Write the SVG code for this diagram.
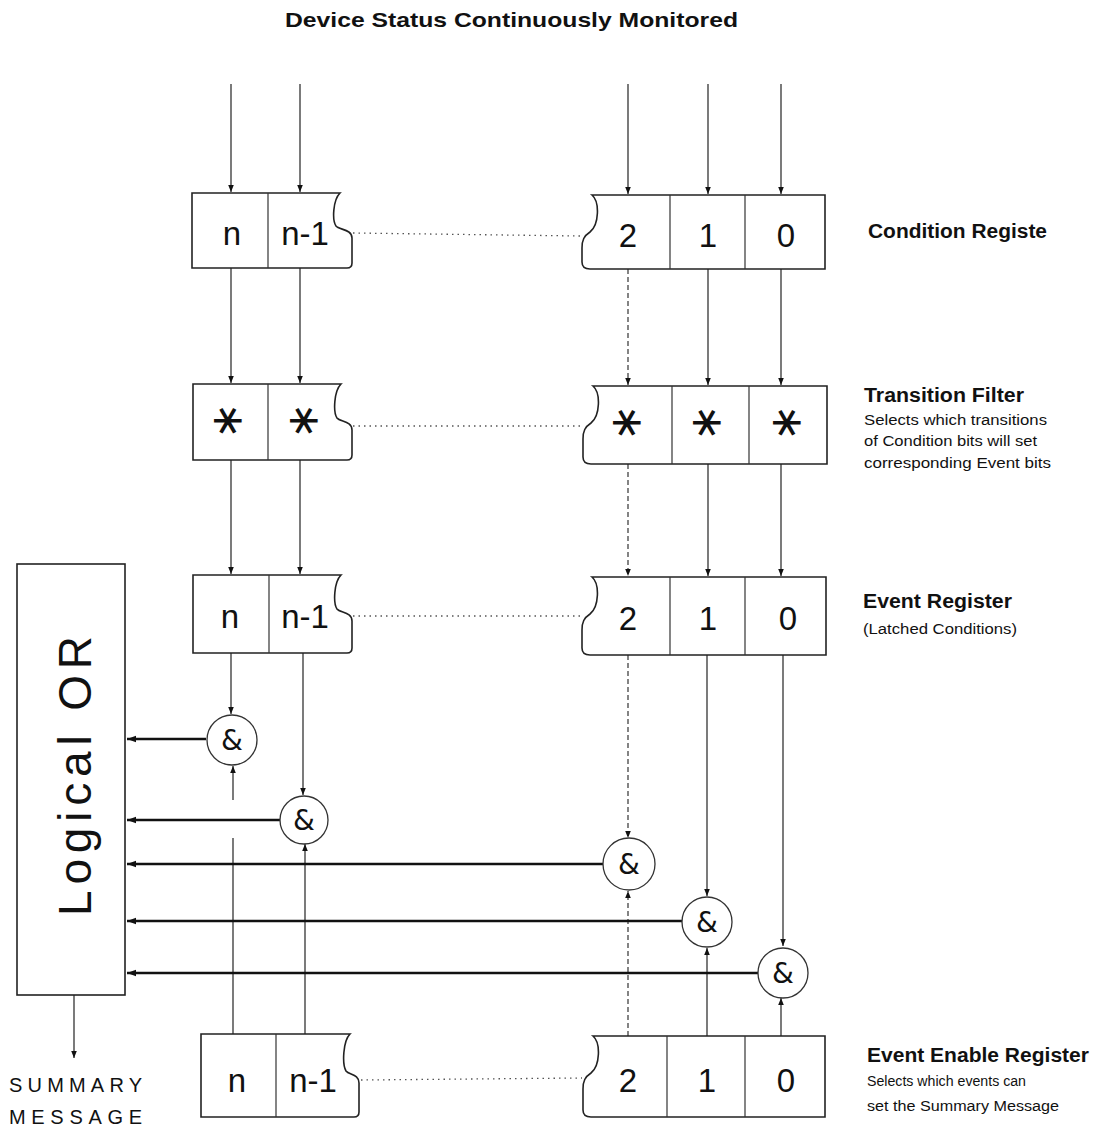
<svg xmlns="http://www.w3.org/2000/svg" width="1105" height="1129" viewBox="0 0 1105 1129">
<defs>
<marker id="ah" viewBox="0 0 10 10" refX="10" refY="5" markerWidth="7" markerHeight="7" orient="auto" markerUnits="userSpaceOnUse">
<path d="M0,1 L10,5 L0,9 Z" fill="#111"/>
</marker>
<marker id="ahb" viewBox="0 0 10 10" refX="10" refY="5" markerWidth="10" markerHeight="9" orient="auto" markerUnits="userSpaceOnUse">
<path d="M0,1.5 L10,5 L0,8.5 Z" fill="#111"/>
</marker>
</defs>
<style>
.box{fill:#fff;stroke:#222;stroke-width:1.6}
.div{stroke:#333;stroke-width:1.2}
.dot{stroke:#555;stroke-width:1.3;stroke-dasharray:1.5 4;fill:none}
.ln{stroke:#222;stroke-width:1.2;fill:none}
.dl{stroke:#333;stroke-width:1.2;fill:none;stroke-dasharray:5 3}
.hl{stroke:#111;stroke-width:2.4;fill:none}
.gate{fill:#fff;stroke:#333;stroke-width:1.3}
.num{font-family:"Liberation Sans",Arial,sans-serif;font-size:33px;fill:#111;text-anchor:middle}
.amp{font-family:"DejaVu Sans",sans-serif;font-size:28px;fill:#111;text-anchor:middle}
.star{font-family:"DejaVu Sans",sans-serif;font-size:44px;fill:#111;text-anchor:middle}
.lab{font-family:"Liberation Sans",Arial,sans-serif;font-size:20px;font-weight:bold;fill:#111}
.sub{font-family:"Liberation Sans",Arial,sans-serif;font-size:14px;fill:#111}
.title{font-family:"Liberation Sans",Arial,sans-serif;font-size:21px;font-weight:bold;fill:#111}
.big{font-family:"Liberation Sans",Arial,sans-serif;font-size:46px;fill:#111;text-anchor:middle}
.sum{font-family:"Liberation Sans",Arial,sans-serif;font-size:20px;fill:#111}
</style>
<rect width="1105" height="1129" fill="#fff"/>

<text class="title" x="285" y="27" textLength="453" lengthAdjust="spacingAndGlyphs">Device Status Continuously Monitored</text>

<g id="connectors">
<line class="ln" x1="231" y1="84" x2="231" y2="192" marker-end="url(#ah)"/>
<line class="ln" x1="300" y1="84" x2="300" y2="192" marker-end="url(#ah)"/>
<line class="ln" x1="628" y1="84" x2="628" y2="194" marker-end="url(#ah)"/>
<line class="ln" x1="708" y1="84" x2="708" y2="194" marker-end="url(#ah)"/>
<line class="ln" x1="781" y1="84" x2="781" y2="194" marker-end="url(#ah)"/>
<line class="ln" x1="231" y1="268" x2="231" y2="383" marker-end="url(#ah)"/>
<line class="ln" x1="300" y1="268" x2="300" y2="383" marker-end="url(#ah)"/>
<line class="dl" x1="628" y1="269" x2="628" y2="385" marker-end="url(#ah)"/>
<line class="ln" x1="708" y1="269" x2="708" y2="385" marker-end="url(#ah)"/>
<line class="ln" x1="781" y1="269" x2="781" y2="385" marker-end="url(#ah)"/>
<line class="ln" x1="231" y1="460" x2="231" y2="574" marker-end="url(#ah)"/>
<line class="ln" x1="300" y1="460" x2="300" y2="574" marker-end="url(#ah)"/>
<line class="dl" x1="628" y1="464" x2="628" y2="576" marker-end="url(#ah)"/>
<line class="ln" x1="708" y1="464" x2="708" y2="576" marker-end="url(#ah)"/>
<line class="ln" x1="781" y1="464" x2="781" y2="576" marker-end="url(#ah)"/>
<line class="ln" x1="231" y1="653" x2="231" y2="714" marker-end="url(#ah)"/>
<line class="ln" x1="303" y1="653" x2="303" y2="795" marker-end="url(#ah)"/>
<line class="dl" x1="628" y1="655" x2="628" y2="838" marker-end="url(#ah)"/>
<line class="ln" x1="707" y1="655" x2="707" y2="896" marker-end="url(#ah)"/>
<line class="ln" x1="783" y1="655" x2="783" y2="946" marker-end="url(#ah)"/>
<line class="ln" x1="233" y1="1034" x2="233" y2="838"/>
<line class="ln" x1="233" y1="800" x2="233" y2="766" marker-end="url(#ah)"/>
<line class="ln" x1="305" y1="1034" x2="305" y2="844" marker-end="url(#ah)"/>
<line class="dl" x1="628" y1="1036" x2="628" y2="891" marker-end="url(#ah)"/>
<line class="ln" x1="707" y1="1036" x2="707" y2="948" marker-end="url(#ah)"/>
<line class="ln" x1="781" y1="1036" x2="781" y2="998" marker-end="url(#ah)"/>
<line class="hl" x1="206" y1="739" x2="127" y2="739" marker-end="url(#ahb)"/>
<line class="hl" x1="280" y1="820" x2="127" y2="820" marker-end="url(#ahb)"/>
<line class="hl" x1="603" y1="864" x2="127" y2="864" marker-end="url(#ahb)"/>
<line class="hl" x1="682" y1="921" x2="127" y2="921" marker-end="url(#ahb)"/>
<line class="hl" x1="758" y1="973" x2="127" y2="973" marker-end="url(#ahb)"/>
<line class="ln" x1="74" y1="995" x2="74" y2="1058" marker-end="url(#ah)"/>
<line class="dot" x1="353" y1="233" x2="580" y2="236"/>
<line class="dot" x1="353" y1="426" x2="582" y2="426"/>
<line class="dot" x1="353" y1="616" x2="582" y2="616"/>
<line class="dot" x1="361" y1="1080" x2="582" y2="1078"/>
</g>

<g id="condition-register">
<path class="box" d="M192,193 H340 C333,200 332,220 336,226 C339,230 352,229 352,238 V263 Q352,268 347,268 H192 Z"/>
<line class="div" x1="268" y1="193" x2="268" y2="268"/>
<text class="num" x="232" y="245">n</text>
<text class="num" x="305" y="245">n-1</text>
<path class="box" d="M825,195 H592 C600,202 599,225 590,232 C584,236 582,240 582,248 V262 Q582,269 590,269 H825 Z"/>
<line class="div" x1="670" y1="195" x2="670" y2="269"/>
<line class="div" x1="745" y1="195" x2="745" y2="269"/>
<text class="num" x="628" y="247">2</text>
<text class="num" x="708" y="247">1</text>
<text class="num" x="786" y="247">0</text>
<text class="lab" x="868" y="238" textLength="179" lengthAdjust="spacingAndGlyphs">Condition Registe</text>
</g>

<g id="transition-filter">
<path class="box" d="M193,384 H341 C334,391 333,412 337,418 C340,422 352,421 352,430 V455 Q352,460 347,460 H193 Z"/>
<line class="div" x1="268" y1="384" x2="268" y2="460"/>
<text class="star" transform="translate(229,436) rotate(90 0 -15)">∗</text>
<text class="star" transform="translate(305,436) rotate(90 0 -15)">∗</text>
<path class="box" d="M827,386 H593 C601,393 600,416 591,423 C585,427 583,431 583,439 V457 Q583,464 591,464 H827 Z"/>
<line class="div" x1="672" y1="386" x2="672" y2="464"/>
<line class="div" x1="749" y1="386" x2="749" y2="464"/>
<text class="star" transform="translate(628,438) rotate(90 0 -15)">∗</text>
<text class="star" transform="translate(708,438) rotate(90 0 -15)">∗</text>
<text class="star" transform="translate(788,438) rotate(90 0 -15)">∗</text>
<text class="lab" x="864" y="402" textLength="160" lengthAdjust="spacingAndGlyphs">Transition Filter</text>
<text class="sub" x="864" y="425" textLength="183" lengthAdjust="spacingAndGlyphs">Selects  which transitions</text>
<text class="sub" x="864" y="446" textLength="173" lengthAdjust="spacingAndGlyphs">of Condition bits will set</text>
<text class="sub" x="864" y="468" textLength="187" lengthAdjust="spacingAndGlyphs">corresponding  Event bits</text>
</g>

<g id="event-register">
<path class="box" d="M193,575 H341 C334,582 333,603 337,609 C340,613 352,612 352,621 V648 Q352,653 347,653 H193 Z"/>
<line class="div" x1="269" y1="575" x2="269" y2="653"/>
<text class="num" x="230" y="628">n</text>
<text class="num" x="305" y="628">n-1</text>
<path class="box" d="M826,577 H592 C600,584 599,607 590,614 C584,618 582,622 582,630 V648 Q582,655 590,655 H826 Z"/>
<line class="div" x1="670" y1="577" x2="670" y2="655"/>
<line class="div" x1="745" y1="577" x2="745" y2="655"/>
<text class="num" x="628" y="630">2</text>
<text class="num" x="708" y="630">1</text>
<text class="num" x="788" y="630">0</text>
<text class="lab" x="863" y="608" textLength="149" lengthAdjust="spacingAndGlyphs">Event Register</text>
<text class="sub" x="863" y="634" textLength="154" lengthAdjust="spacingAndGlyphs">(Latched Conditions)</text>
</g>

<g id="logical-or">
<rect class="box" x="17" y="564" width="108" height="431"/>
<text class="big" transform="translate(91,776) rotate(-90)" textLength="280" lengthAdjust="spacing">Logical OR</text>
</g>

<g id="gate-n"><circle class="gate" cx="232" cy="740" r="25"/><text class="amp" x="232" y="750">&amp;</text></g>
<g id="gate-n-1"><circle class="gate" cx="304" cy="820" r="24"/><text class="amp" x="304" y="830">&amp;</text></g>
<g id="gate-2"><circle class="gate" cx="629" cy="864" r="26"/><text class="amp" x="629" y="874">&amp;</text></g>
<g id="gate-1"><circle class="gate" cx="707" cy="922" r="25"/><text class="amp" x="707" y="932">&amp;</text></g>
<g id="gate-0"><circle class="gate" cx="783" cy="973" r="25"/><text class="amp" x="783" y="983">&amp;</text></g>

<g id="event-enable-register">
<path class="box" d="M201,1034 H350 C343,1041 342,1064 346,1071 C349,1075 359,1074 359,1083 V1112 Q359,1117 354,1117 H201 Z"/>
<line class="div" x1="276" y1="1034" x2="276" y2="1117"/>
<text class="num" x="237" y="1092">n</text>
<text class="num" x="313" y="1092">n-1</text>
<path class="box" d="M825,1036 H593 C601,1043 600,1066 591,1073 C585,1077 583,1081 583,1089 V1110 Q583,1117 591,1117 H825 Z"/>
<line class="div" x1="667" y1="1036" x2="667" y2="1117"/>
<line class="div" x1="745" y1="1036" x2="745" y2="1117"/>
<text class="num" x="628" y="1092">2</text>
<text class="num" x="707" y="1092">1</text>
<text class="num" x="786" y="1092">0</text>
<text class="lab" x="867" y="1062" textLength="222" lengthAdjust="spacingAndGlyphs">Event Enable Register</text>
<text class="sub" x="867" y="1086" textLength="159" lengthAdjust="spacingAndGlyphs">Selects which  events can</text>
<text class="sub" x="867" y="1111" textLength="192" lengthAdjust="spacingAndGlyphs">set the Summary Message</text>
</g>

<g id="summary-message">
<text class="sum" x="9" y="1092" textLength="133" lengthAdjust="spacing">SUMMARY</text>
<text class="sum" x="9" y="1124" textLength="133" lengthAdjust="spacing">MESSAGE</text>
</g>
</svg>
